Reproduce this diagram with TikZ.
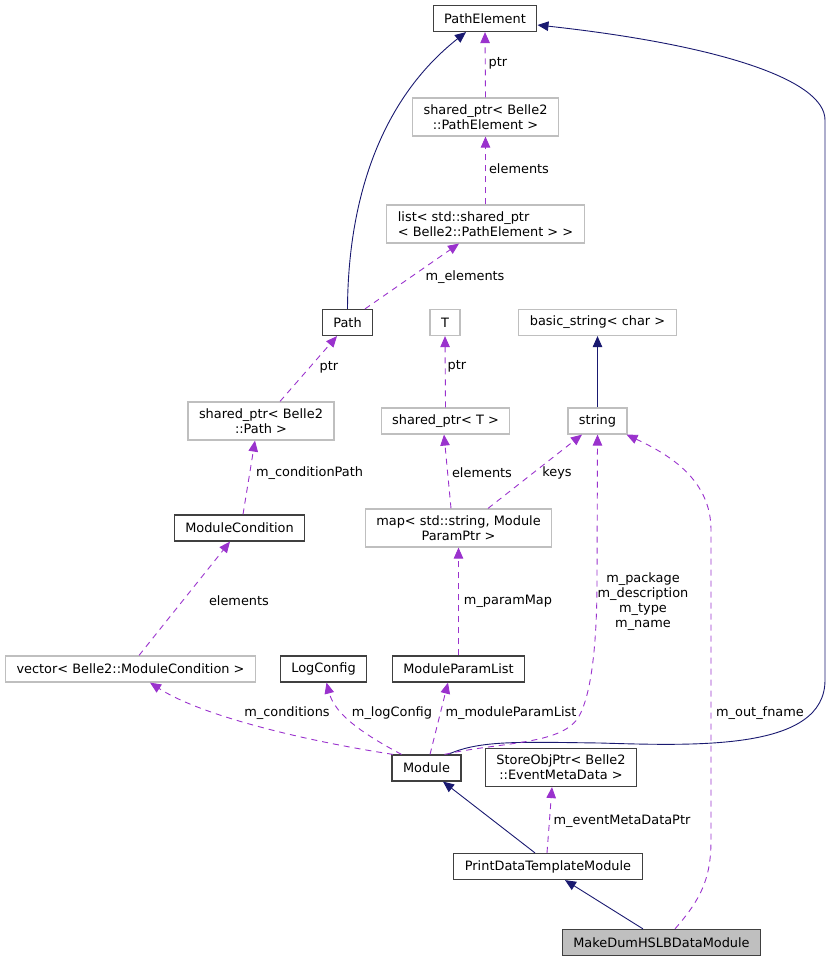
\documentclass[tikz,border=0pt]{standalone}
\usepackage{fontspec}
\setmainfont{DejaVu Sans}
\usetikzlibrary{arrows.meta}
\definecolor{inhcol}{HTML}{191970}
\definecolor{usecol}{HTML}{9A32CD}
\definecolor{extcol}{HTML}{BFBFBF}
\definecolor{clscol}{HTML}{404040}
\begin{document}
\begin{tikzpicture}[x=1pt,y=-1pt,
    box/.style={draw,line width=1.2pt,inner xsep=11pt,inner ysep=6.5pt,minimum height=26pt,
      font=\fontsize{12.9}{15}\selectfont,align=center},
    cls/.style={box,draw=clscol},
    ext/.style={box,draw=extcol},
    main/.style={box,draw=clscol,fill=extcol},
    lbl/.style={font=\fontsize{12.9}{15}\selectfont,align=center,inner sep=0pt},
    inh/.style={draw=inhcol,line width=0.9pt,-{Triangle[length=11pt,width=9.5pt]}},
    use/.style={draw=usecol,line width=0.9pt,dash pattern=on 6pt off 5pt,-{Triangle[length=11pt,width=9.5pt]}}]
      \useasboundingbox (0,0) rectangle (831,963);
      \draw
        (485,18.5) node[cls] (0){PathElement}
        (485.5,117) node[ext] (1){shared\_ptr< Belle2\\::PathElement >}
        (485.5,224) node[ext,align=left] (2){list< std::shared\_ptr\\< Belle2::PathElement > >}
        (347.5,322.5) node[cls] (3){Path}
        (445,322.5) node[ext] (4){T}
        (597.5,322.5) node[ext] (5){basic\_string< char >}
        (261,421) node[ext] (6){shared\_ptr< Belle2\\::Path >}
        (445.5,421) node[ext] (7){shared\_ptr< T >}
        (597.5,421) node[ext] (8){string}
        (239.5,528) node[cls] (9){ModuleCondition}
        (458.5,528) node[ext] (10){map< std::string, Module\\ParamPtr >}
        (130.5,669) node[ext] (11){vector< Belle2::ModuleCondition >}
        (323.5,669) node[cls] (12){LogConfig}
        (458.5,669) node[cls] (13){ModuleParamList}
        (426.5,768) node[cls] (14){Module}
        (561,767.5) node[cls] (15){StoreObjPtr< Belle2\\::EventMetaData >}
        (548,866.5) node[cls] (16){PrintDataTemplateModule}
        (661.5,942.5) node[main] (17){MakeDumHSLBDataModule};
      \begin{scope}[inh]
        \draw (3.north) .. controls (348,200) and (380,100) .. ([xshift=-19pt]0.south);
        \draw (8.north) to (5.south);
        \draw ([xshift=21.5pt]14.north) .. controls (480,740) and (520,742) .. (600,743)
          .. controls (700,746) and (825,750) .. (825,680) -- (825,120)
          .. controls (825,80) and (720,45) .. ([yshift=-6.5pt]0.east);
        \draw ([xshift=-13pt]16.north) to ([xshift=16.5pt]14.south);
        \draw ([xshift=-18.5pt]17.north) to ([xshift=17pt]16.south);
      \end{scope}
      \begin{scope}[use]
        \draw (1.north) to (0.south);
        \draw (2.north) to (1.south);
        \draw ([xshift=17.5pt]3.north) to ([xshift=-26.5pt]2.south);
        \draw ([xshift=19pt]6.north) to ([xshift=-10.5pt]3.south);
        \draw (7.north) to (4.south);
        \draw ([xshift=3.5pt]9.north) to ([xshift=-6pt]6.south);
        \draw ([xshift=-7.5pt]10.north) to ([xshift=-1.5pt]7.south);
        \draw ([xshift=29.5pt]10.north) to ([xshift=-15.5pt]8.south);
        \draw ([xshift=8.5pt]11.north) to ([xshift=-9.5pt]9.south);
        \draw (13.north) to (10.south);
        \draw ([xshift=-33.5pt]14.north) .. controls (300,740) and (200,715) .. ([xshift=19.5pt]11.south);
        \draw ([xshift=-25pt]14.north) .. controls (365,735) and (335,715) .. ([xshift=3pt]12.south);
        \draw ([xshift=3.5pt]14.north) to ([xshift=-10.5pt]13.south);
        \draw ([xshift=18pt]14.north) .. controls (500,742) and (560,745) .. (578,718)
          .. controls (592,695) and (597,640) .. (597,580) -- (8.south);
        \draw ([xshift=-1pt]16.north) to ([xshift=-9pt]15.south);
        \draw ([xshift=13.5pt]17.north) .. controls (700,900) and (711,880) .. (711,840) -- (711,530)
          .. controls (711,480) and (670,455) .. ([xshift=29pt]8.south);
      \end{scope}
      \node[lbl] (l0) at (498,63) {ptr};
      \node[lbl] (l1) at (519,169) {elements};
      \node[lbl] (l2) at (465,277) {m\_elements};
      \node[lbl] (l3) at (329,367) {ptr};
      \node[lbl] (l4) at (457,366) {ptr};
      \node[lbl] (l5) at (309.5,473) {m\_conditionPath};
      \node[lbl] (l6) at (482,473) {elements};
      \node[lbl] (l7) at (557,473) {keys};
      \node[lbl] (l8) at (239,601) {elements};
      \node[lbl] (l9) at (508,601) {m\_paramMap};
      \node[lbl] (l10) at (643,602) {m\_package\\m\_description\\m\_type\\m\_name};
      \node[lbl] (l11) at (287,713) {m\_conditions};
      \node[lbl] (l12) at (392,713) {m\_logConfig};
      \node[lbl] (l13) at (511,713) {m\_moduleParamList};
      \node[lbl] (l14) at (760,713) {m\_out\_fname};
      \node[lbl] (l15) at (622,821) {m\_eventMetaDataPtr};
    \end{tikzpicture}
\end{document}
